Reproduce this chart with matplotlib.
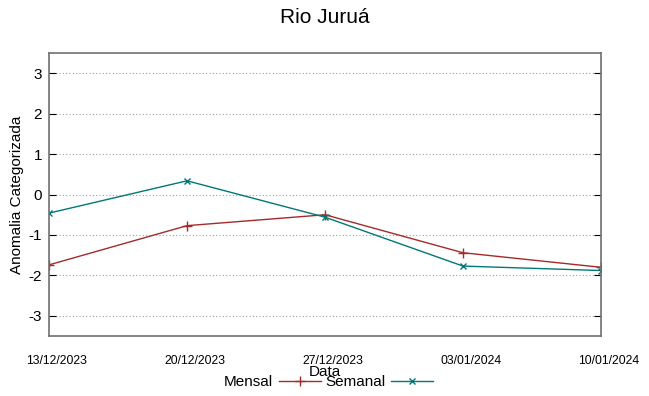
import matplotlib.pyplot as plt
import matplotlib.dates as mdates
import matplotlib.transforms as mtransforms
import numpy as np
from datetime import datetime

plt.rcParams['font.family'] = ['Liberation Sans', 'DejaVu Sans']
plt.rcParams['axes.unicode_minus'] = False

datas = ['13/12/2023', '20/12/2023', '27/12/2023', '03/01/2024', '10/01/2024']
mensal = [-1.74, -0.77, -0.50, -1.44, -1.80]
semanal = [-0.46, 0.34, -0.56, -1.77, -1.88]

x = [datetime.strptime(d, '%d/%m/%Y') for d in datas]

fig = plt.figure(figsize=(6.49, 3.96), dpi=100)
ax = fig.add_axes([0.0755, 0.1515, 0.8505, 0.7145])

ax.plot(x, mensal, color='#a52a2a', lw=1, marker='+', ms=7, mew=1, label='Mensal')
ax.plot(x, semanal, color='#007878', lw=1, marker='x', ms=5, mew=1, label='Semanal')

ax.set_xlim(x[0], x[-1])
ax.set_ylim(-3.5, 3.5)
ax.set_yticks([-3, -2, -1, 0, 1, 2, 3])
ax.set_xticks(x)
ax.xaxis.set_major_formatter(mdates.DateFormatter('%d/%m/%Y'))
ax.yaxis.grid(True, ls=(0, (1, 2)), color='#a0a0a0', lw=0.8)
ax.tick_params(axis='y', direction='in', labelsize=11, length=5, pad=5)
ax.tick_params(axis='x', direction='in', labelsize=8.8, length=0, pad=14)
ax.tick_params(axis='y', which='both', right=True)
offset = mtransforms.ScaledTranslation(8 / 100, 0, fig.dpi_scale_trans)
for lbl in ax.get_xticklabels():
    lbl.set_transform(lbl.get_transform() + offset)
for s in ax.spines.values():
    s.set_color('#707070')
    s.set_linewidth(1.2)

ax.set_ylabel('Anomalia Categorizada', fontsize=11)
ax.yaxis.set_label_coords(-0.045, 0.5)
ax.set_xlabel('Data', fontsize=11, labelpad=-2)
fig.suptitle('Rio Juruá', fontsize=15, y=0.98)

fig.legend(loc='center', bbox_to_anchor=(0.506, 0.035), ncol=2, frameon=False,
           markerfirst=False, fontsize=11, handlelength=2.7, columnspacing=0.3,
           handletextpad=0.4, borderpad=0)

fig.savefig('out.png', dpi=100)
